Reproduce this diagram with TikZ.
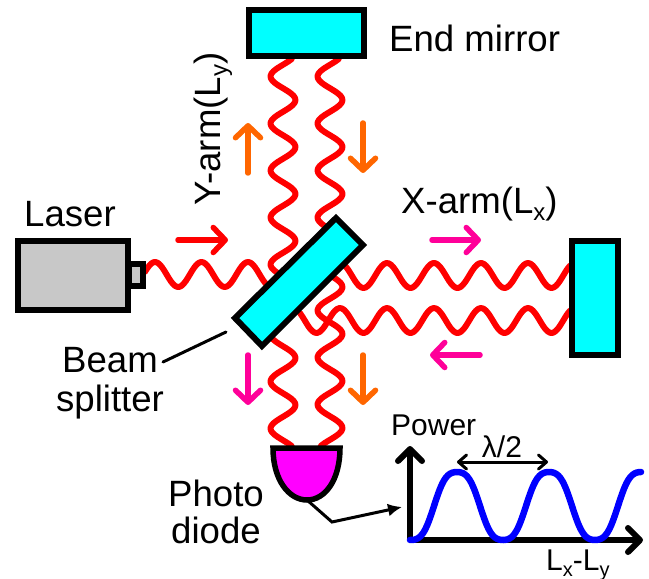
\documentclass[tikz,border=0pt]{standalone}
\usepackage{fontspec}
\setmainfont{Liberation Sans}
\usetikzlibrary{arrows.meta}
\definecolor{cy}{HTML}{00FFFF}
\definecolor{gy}{HTML}{C8C8C8}
\definecolor{og}{HTML}{FF6600}
\definecolor{mg}{HTML}{FF0099}
\definecolor{pd}{HTML}{FF00FF}
\newcommand\lsubL[1]{\raisebox{-7bp}{\fontsize{24bp}{26bp}\selectfont #1}}
\newcommand\lsubS[1]{\raisebox{-6bp}{\fontsize{20bp}{22bp}\selectfont #1}}
\tikzset{
  wave/.style={red,line width=6bp,line cap=round,line join=round},
  box/.style={draw=black,line width=6bp,inner sep=0pt,outer sep=0pt,miter limit=10},
  lab/.style={inner sep=0pt,font=\fontsize{36.6bp}{40bp}\selectfont,align=center},
  small/.style={inner sep=0pt,font=\fontsize{30bp}{34bp}\selectfont},
  dirarrow/.style={line width=5.5bp,line cap=round,-{Straight Barb[length=12bp,width=25bp,round,line width=5.5bp]}},
  axis/.style={line width=6bp,-{Straight Barb[length=12bp,width=24bp,round,line width=6bp]}},
  thin leader/.style={line width=3bp}
}
\begin{document}
\begin{tikzpicture}[x=1bp,y=-1bp]
\useasboundingbox (0,0) rectangle (649,579);
% waves
\draw[wave] plot[variable=\t,domain=59:275,samples=90,smooth] ({283+12.5*cos((\t-100)/47*360)},\t);
\draw[wave] plot[variable=\t,domain=59:275,samples=90,smooth] ({330+12.5*cos((\t-100)/47*360)},\t);
\draw[wave] plot[variable=\t,domain=335:446,samples=50,smooth] ({283+12.5*cos((\t-358)/47*360)},\t);
\draw[wave] plot[variable=\t,domain=275:446,samples=70,smooth] ({330+12.5*cos((\t-287)/47*360)},\t);
\draw[wave] plot[variable=\t,domain=145:272,samples=60,smooth] (\t,{274.5-12.5*cos((\t-155)/46.5*360)});
\draw[wave] plot[variable=\t,domain=340:570,samples=100,smooth] (\t,{275.5-12.5*cos((\t-387)/47*360)});
\draw[wave] plot[variable=\t,domain=300:570,samples=110,smooth] (\t,{320.5-12.5*cos((\t-387)/47*360)});
% components
\node[box,fill=cy,minimum width=115bp,minimum height=46bp] (endm) at (306.5,33) {};
\node[box,fill=cy,minimum width=46bp,minimum height=114bp] (xm) at (595,298) {};
\node[box,fill=gy,minimum width=14bp,minimum height=22bp] (noz) at (136,275) {};
\node[box,fill=gy,minimum width=110bp,minimum height=69bp] (laser) at (73,275.5) {};
\coordinate (bs1) at (336,218);
\coordinate (bs2) at (363,245);
\coordinate (bs3) at (262,346);
\coordinate (bs4) at (235,318);
\draw[fill=cy,line width=6bp,miter limit=10] (bs1) -- (bs2) -- (bs3) -- (bs4) -- cycle;
\coordinate (pdbot) at (307,500);
\draw[fill=pd,line width=5.5bp,line join=miter] (273,448) -- (340,448) .. controls (340,480) and (325,500) .. (pdbot) .. controls (289,500) and (273,480) .. (273,448) -- cycle;
% direction arrows
\coordinate (a1s) at (178,240); \coordinate (a1e) at (228,240);
\draw[dirarrow,red] (a1s) -- (a1e);
\coordinate (a2s) at (248,173); \coordinate (a2e) at (248,123);
\draw[dirarrow,og] (a2s) -- (a2e);
\coordinate (a3s) at (363,123); \coordinate (a3e) at (363,173);
\draw[dirarrow,og] (a3s) -- (a3e);
\coordinate (a4s) at (432,240); \coordinate (a4e) at (481,240);
\draw[dirarrow,mg] (a4s) -- (a4e);
\coordinate (a5s) at (480,355); \coordinate (a5e) at (430,355);
\draw[dirarrow,mg] (a5s) -- (a5e);
\coordinate (a6s) at (248,355); \coordinate (a6e) at (248,405);
\draw[dirarrow,mg] (a6s) -- (a6e);
\coordinate (a7s) at (363,355); \coordinate (a7e) at (363,405);
\draw[dirarrow,og] (a7s) -- (a7e);
% labels
\node[lab,anchor=base west] (tend) at (389,52) {End mirror};
\node[lab,anchor=base west] (tlaser) at (24,226) {Laser};
\node[lab,anchor=base west] (txarm) at (401,213) {X-arm(L\lsubL{x})};
\node[lab,anchor=base west,rotate=90] (tyarm) at (220,206) {Y-arm(L\lsubL{y})};
\node[lab,anchor=base] (tbeam) at (110,372) {Beam};
\node[lab,anchor=base] (tsplit) at (110,411) {splitter};
\node[lab,anchor=base] (tphoto) at (216,506) {Photo};
\node[lab,anchor=base] (tdiode) at (216,543) {diode};
% leaders
\coordinate (l1) at (163,362); \coordinate (l2) at (226,332);
\draw[thin leader,line cap=round] (l1) -- (l2);
\coordinate (c1) at (332,522); \coordinate (c2) at (402,507);
\draw[thin leader,-{Latex[length=14bp,width=13bp]}] (pdbot) -- (c1) -- (c2);
% graph
\coordinate (o) at (410,540);
\coordinate (ytop) at (410,446);
\coordinate (xend) at (643,540);
\draw[axis] (o) -- (ytop);
\draw[axis] (o) -- (xend);
\draw[blue,line width=6.5bp,line cap=round] plot[variable=\t,domain=410:641,samples=110,smooth] (\t,{506-34*(1.08*cos((\t-457)/92*360)-0.08*cos((\t-457)/92*1080))});
\coordinate (w1) at (457,462); \coordinate (w2) at (548,462);
\draw[line width=3bp,{Straight Barb[length=8bp,width=14bp,round,line width=3bp]}-{Straight Barb[length=8bp,width=14bp,round,line width=3bp]}] (w1) -- (w2);
\node[small,anchor=base west] (tpower) at (391,435) {Power};
\node[small,anchor=base] (tlambda) at (502,457) {λ/2};
\node[small,anchor=base west] (tlxy) at (546,570) {L\lsubS{x}-L\lsubS{y}};
\end{tikzpicture}
\end{document}
